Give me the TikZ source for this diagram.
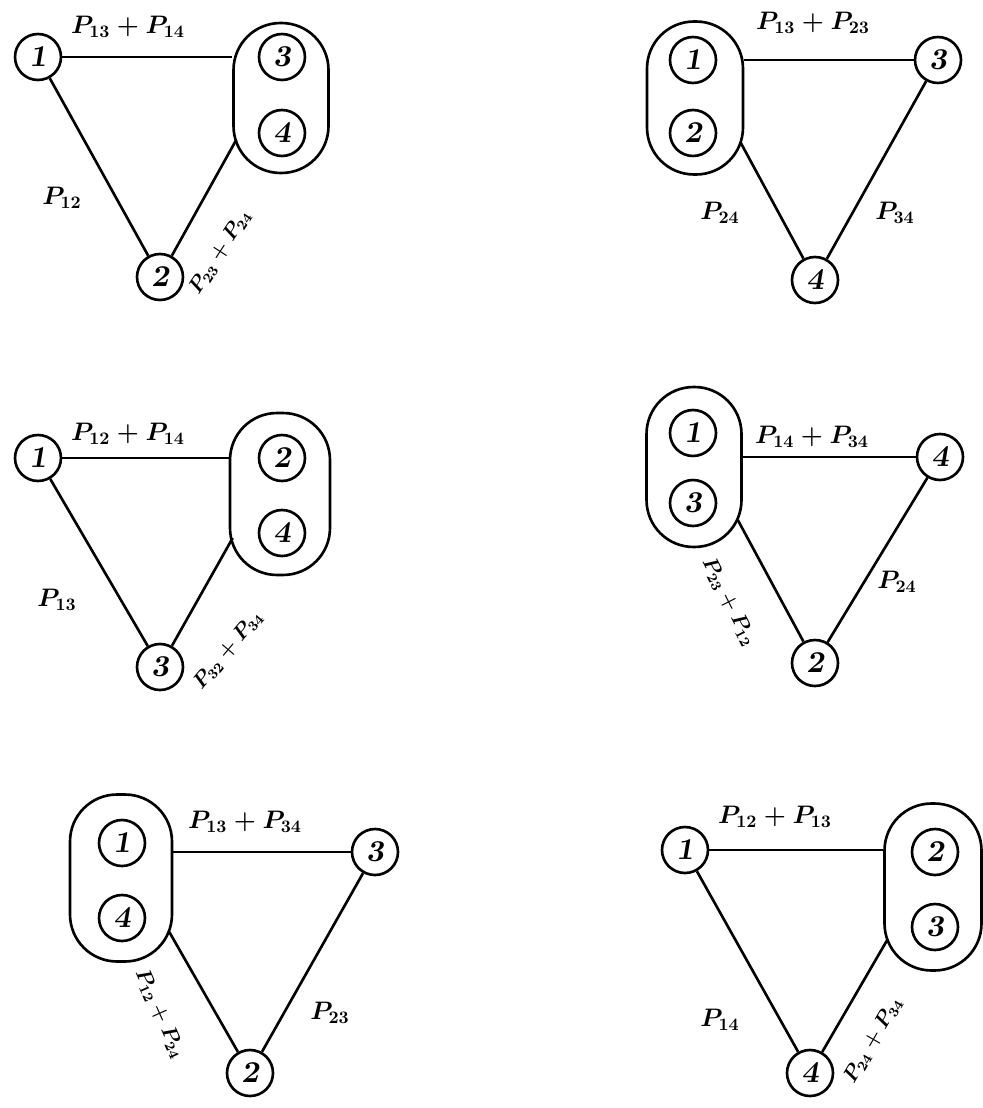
\documentclass[tikz,border=0pt]{standalone}
\usetikzlibrary{calc}

\begin{document}
\begin{tikzpicture}[
    x=0.02cm, y=-0.02cm,
    line width=1.5pt,
    vtx/.style  = {draw, circle, minimum size=0.92cm, inner sep=0pt,
                   font=\LARGE\bfseries\slshape},
    grp/.style  = {draw, rounded corners=0.94cm, inner sep=0pt},
    link/.style = {line width=1.5pt},
    plbl/.style = {font=\Large\boldmath, inner sep=1pt},
    rlbl/.style = {font=\large\boldmath, inner sep=1pt},
  ]
  \useasboundingbox (0,0) rectangle (983,1108);

  % ===================================================================
  % Top left: {3,4} merged
  % ===================================================================
  \node[grp, minimum width=1.9cm, minimum height=3.0cm] (Ag) at (281,98) {};
  \node[vtx] (A3) at (282,57) {3};
  \node[vtx] (A4) at (282,133) {4};
  \node[vtx] (A1) at (38,57) {1};
  \node[vtx] (A2) at (160,277) {2};

  \draw[link] (A1) -- (A1 -| Ag.west);
  \draw[link] (A1) -- (A2);
  \draw[link] (A2) -- ($(Ag.west)+(4,42)$);

  \node[plbl] at (128,27) {$P_{13} + P_{14}$};
  \node[plbl] at (62,198) {$P_{12}$};
  \node[rlbl, rotate=57] at (220,252) {$P_{23} + P_{24}$};

  % ===================================================================
  % Top right: {1,2} merged
  % ===================================================================
  \node[grp, minimum width=1.92cm, minimum height=3.06cm] (Bg) at (695,98) {};
  \node[vtx] (B1) at (693,60) {1};
  \node[vtx] (B2) at (693,133) {2};
  \node[vtx] (B3) at (938,60) {3};
  \node[vtx] (B4) at (815,280) {4};

  \draw[link] (Bg.east |- B3) -- (B3);
  \draw[link] ($(Bg.east)+(-4,44)$) -- (B4);
  \draw[link] (B3) -- (B4);

  \node[plbl] at (813,23) {$P_{13} + P_{23}$};
  \node[plbl] at (720,213) {$P_{24}$};
  \node[plbl] at (895,213) {$P_{34}$};

  % ===================================================================
  % Middle left: {2,4} merged
  % ===================================================================
  \node[grp, minimum width=2.0cm, minimum height=3.24cm] (Cg) at (280,494) {};
  \node[vtx] (C2) at (282,458) {2};
  \node[vtx] (C4) at (282,533) {4};
  \node[vtx] (C1) at (38,458) {1};
  \node[vtx] (C3) at (160,667) {3};

  \draw[link] (C1) -- (C1 -| Cg.west);
  \draw[link] (C1) -- (C3);
  \draw[link] (C3) -- ($(Cg.west)+(4,44)$);

  \node[plbl] at (128,434) {$P_{12} + P_{14}$};
  \node[plbl] at (57,600) {$P_{13}$};
  \node[rlbl, rotate=50] at (228,650) {$P_{32} + P_{34}$};

  % ===================================================================
  % Middle right: {1,3} merged
  % ===================================================================
  \node[grp, minimum width=1.9cm, minimum height=3.2cm] (Dg) at (694,467) {};
  \node[vtx] (D1) at (693,433) {1};
  \node[vtx] (D3) at (693,503) {3};
  \node[vtx] (D4) at (940,457) {4};
  \node[vtx] (D2) at (815,663) {2};

  \draw[link] (Dg.east |- D4) -- (D4);
  \draw[link] ($(Dg.east)+(-5,53)$) -- (D2);
  \draw[link] (D4) -- (D2);

  \node[plbl] at (812,437) {$P_{14} + P_{34}$};
  \node[plbl] at (897,582) {$P_{24}$};
  \node[rlbl, rotate=-63] at (729,602) {$P_{23} + P_{12}$};

  % ===================================================================
  % Bottom left: {1,4} merged
  % ===================================================================
  \node[grp, minimum width=2.04cm, minimum height=3.34cm] (Eg) at (121,878) {};
  \node[vtx] (E1) at (122,843) {1};
  \node[vtx] (E4) at (122,918) {4};
  \node[vtx] (E3) at (375,852) {3};
  \node[vtx] (E2) at (250,1073) {2};

  \draw[link] (Eg.east |- E3) -- (E3);
  \draw[link] ($(Eg.east)+(-4,54)$) -- (E2);
  \draw[link] (E3) -- (E2);

  \node[plbl] at (245,822) {$P_{13} + P_{34}$};
  \node[plbl] at (330,1013) {$P_{23}$};
  \node[rlbl, rotate=-66] at (160,1014) {$P_{12} + P_{24}$};

  % ===================================================================
  % Bottom right: {2,3} merged
  % ===================================================================
  \node[grp, minimum width=1.94cm, minimum height=3.34cm] (Fg) at (933,887) {};
  \node[vtx] (F2) at (935,852) {2};
  \node[vtx] (F3) at (935,927) {3};
  \node[vtx] (F1) at (685,850) {1};
  \node[vtx] (F4) at (810,1073) {4};

  \draw[link] (F1) -- (F1 -| Fg.west);
  \draw[link] (F1) -- (F4);
  \draw[link] (F4) -- ($(Fg.west)+(4,53)$);

  \node[plbl] at (775,817) {$P_{12} + P_{13}$};
  \node[plbl] at (720,1020) {$P_{14}$};
  \node[rlbl, rotate=60] at (873,1040) {$P_{24} + P_{34}$};

\end{tikzpicture}
\end{document}
